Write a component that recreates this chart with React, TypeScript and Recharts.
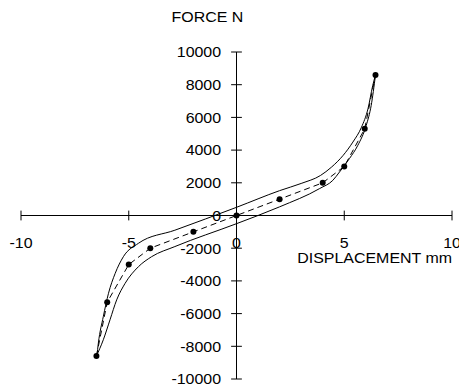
import React from "react";
import { ComposedChart, Line, XAxis, YAxis, ReferenceLine } from "recharts";

// axis ticks
const xTicks = [-10, -5, 0, 5, 10];
const yTicks = [10000, 8000, 6000, 4000, 2000, 0, -2000, -4000, -6000, -8000, -10000];

// mean curve (dashed, with points)
const meanDisp = [-6.5, -6, -5, -4, -2, 0, 2, 4, 5, 5.95, 6.45];
const meanForce = [-8600, -5300, -3000, -2000, -1000, 0, 1000, 2000, 3000, 5300, 8600];

// upper envelope
const upperDisp = [-6.48, -6.41, -6.18, -5.94, -5.63, -5.25, -4.55, -2.86, 0, 2, 3.0, 3.9, 4.4, 4.95, 5.4, 5.8, 6.1, 6.32, 6.45];
const upperForce = [-8600, -7800, -6180, -4760, -3540, -2520, -1700, -900, 500, 1520, 1960, 2450, 2950, 3680, 4490, 5400, 6520, 7940, 8600];

// lower envelope
const lowerDisp = [-6.5, -6.18, -5.87, -5.56, -5.17, -4.55, -3.94, -2.86, 0, 2, 3.86, 4.47, 4.78, 5.24, 5.63, 6.02, 6.25, 6.45];
const lowerForce = [-8600, -7600, -6380, -5160, -4150, -3130, -2520, -1900, -500, 530, 1650, 2150, 2660, 3480, 4290, 5510, 6730, 8600];

const font = "'Liberation Sans', Arial, sans-serif";

const pts = (xs: number[], ys: number[]) => xs.map((x, i) => ({ x, y: ys[i] }));

// the original text is a bit wide for its height, so stretch it horizontally
function WideText({ x, y, anchor, children }: any) {
  return (
    <text
      transform={`translate(${x},${y}) scale(1.14,1)`}
      textAnchor={anchor}
      fontSize={14}
      fontFamily={font}
      fill="#000"
    >
      {children}
    </text>
  );
}

const xTickLabel = (v: number) => (props: any) => {
  const vb = props.viewBox || {};
  return (
    <WideText x={vb.x + (vb.width || 0) / 2} y={vb.y + (vb.height || 0) + 28} anchor="middle">
      {String(v)}
    </WideText>
  );
};

const yTickLabel = (v: number) => (props: any) => {
  const vb = props.viewBox || {};
  return (
    <WideText x={vb.x - 10} y={vb.y + (vb.height || 0) / 2 + 5.3} anchor="end">
      {String(v)}
    </WideText>
  );
};

export default function App() {
  return (
    <div
      style={{
        position: "absolute",
        left: 0,
        top: 0,
        width: 459,
        height: 387,
        background: "#fff",
        fontFamily: font,
      }}
    >
      <ComposedChart width={459} height={387} margin={{ top: 52, right: 7, bottom: 8, left: 21 }}>
        <XAxis type="number" dataKey="x" domain={[-10, 10]} hide allowDataOverflow />
        <YAxis type="number" domain={[-10000, 10000]} hide allowDataOverflow />

        <ReferenceLine y={0} stroke="#000" strokeWidth={1} />
        <ReferenceLine x={0} stroke="#000" strokeWidth={1} />

        {xTicks.map((v) => (
          <ReferenceLine
            key={"xt" + v}
            segment={[{ x: v, y: -300 }, { x: v, y: 300 }]}
            stroke="#000"
            label={{ content: xTickLabel(v) }}
          />
        ))}
        {yTicks.map((v) => (
          <ReferenceLine
            key={"yt" + v}
            segment={[{ x: -0.25, y: v }, { x: 0.25, y: v }]}
            stroke="#000"
            label={{ content: yTickLabel(v) }}
          />
        ))}

        <Line
          data={pts(upperDisp, upperForce)}
          dataKey="y"
          type="monotoneX"
          stroke="#000"
          strokeWidth={1}
          dot={false}
          isAnimationActive={false}
        />
        <Line
          data={pts(lowerDisp, lowerForce)}
          dataKey="y"
          type="monotoneX"
          stroke="#000"
          strokeWidth={1}
          dot={false}
          isAnimationActive={false}
        />
        <Line
          data={pts(meanDisp, meanForce)}
          dataKey="y"
          type="linear"
          stroke="#000"
          strokeWidth={1}
          strokeDasharray="6 4"
          dot={{ r: 3, fill: "#000", stroke: "none" }}
          isAnimationActive={false}
        />
      </ComposedChart>
      <svg
        width={459}
        height={387}
        style={{ position: "absolute", left: 0, top: 0, pointerEvents: "none" }}
      >
        <WideText x={207.5} y={22.3} anchor="middle">
          FORCE N
        </WideText>
        <WideText x={452} y={262.7} anchor="end">
          DISPLACEMENT mm
        </WideText>
      </svg>
    </div>
  );
}
